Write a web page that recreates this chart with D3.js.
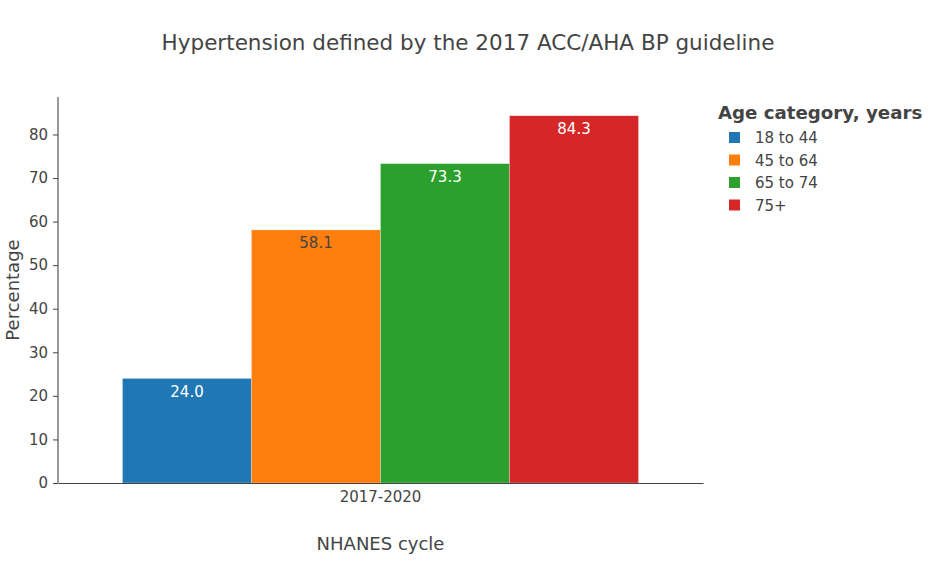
<!DOCTYPE html>
<html>
<head>
  <meta charset="utf-8">
  <script src="https://cdn.jsdelivr.net/npm/d3@7"></script>
  <style type="text/css">
    body {
      margin: 0;
      background: #fff;
      font-family: "DejaVu Sans", Verdana, sans-serif;
    }
  </style>
</head>
<body>
  <script type="text/javascript">

  // data
  const cycles = ['2017-2020'];
  const ageGroups = ['18 to 44', '45 to 64', '65 to 74', '75+'];
  const percentages = [24.0, 58.1, 73.3, 84.3];
  const colors = ['#1f77b4', '#ff7f0e', '#2ca02c', '#d62728'];
  const yTicks = [0, 10, 20, 30, 40, 50, 60, 70, 80];

  const margin = {top: 97, bottom: 97, left: 58, right: 233};
  const width = 936 - margin.left - margin.right;
  const height = 580 - margin.top - margin.bottom;
  const font = '"DejaVu Sans", Verdana, sans-serif';

  const svg = d3.select('body').append('svg')
    .attr('width', 936)
    .attr('height', 580);

  const g = svg.append('g')
    .attr('transform', `translate(${margin.left},${margin.top})`);

  // scales
  const x = d3.scaleBand().domain(cycles).range([0, width]).paddingInner(0.2).paddingOuter(0.1);
  const xSub = d3.scaleBand().domain(ageGroups).range([0, x.bandwidth()]);
  const y = d3.scaleLinear().domain([0, 88.6]).range([height, 0]);

  // y axis
  const axisY = d3.axisLeft(y).tickValues(yTicks).tickSize(5).tickPadding(5);
  const gy = g.append('g').call(axisY);
  gy.selectAll('text').style('font-size', '15px').style('font-family', font).attr('fill', '#444');
  gy.select('.domain').attr('stroke', '#333').attr('d', `M0,${height}V0`);
  gy.selectAll('.tick line').attr('stroke', '#444');

  // bars
  const grp = g.selectAll('.grp').data(cycles).enter().append('g')
    .attr('transform', d => `translate(${x(d)},0)`);

  const rows = ageGroups.map((a, i) => ({age: a, value: percentages[i], color: colors[i]}));

  grp.selectAll('rect').data(rows).enter().append('rect')
    .attr('x', d => xSub(d.age))
    .attr('width', xSub.bandwidth())
    .attr('y', d => y(d.value))
    .attr('height', d => height - y(d.value))
    .attr('fill', d => d.color)
    .attr('stroke', '#fff')
    .attr('stroke-width', 0.5)
    .attr('stroke-opacity', 0.5);

  grp.selectAll('.lbl').data(rows).enter().append('text')
    .attr('x', d => xSub(d.age) + xSub.bandwidth() / 2)
    .attr('y', d => y(d.value) + 18.5)
    .attr('text-anchor', 'middle')
    .style('font-size', '15px')
    .attr('fill', d => d.age === '45 to 64' ? '#444' : '#fff')
    .text(d => d.value.toFixed(1));

  // x axis
  const axisX = d3.axisBottom(x).tickSize(0).tickPadding(8);
  const gx = g.append('g')
    .attr('transform', `translate(0,${height})`)
    .call(axisX);
  gx.selectAll('text').style('font-size', '15px').style('font-family', font).attr('fill', '#444');
  gx.select('.domain').attr('stroke', '#444');

  // titles
  svg.append('text')
    .attr('x', 468).attr('y', 50)
    .attr('text-anchor', 'middle')
    .style('font-size', '21.5px').attr('fill', '#444')
    .text('Hypertension defined by the 2017 ACC/AHA BP guideline');

  svg.append('text')
    .attr('x', margin.left + width / 2).attr('y', 550)
    .attr('text-anchor', 'middle')
    .style('font-size', '18px').attr('fill', '#444')
    .text('NHANES cycle');

  svg.append('text')
    .attr('transform', `translate(19,${margin.top + height / 2}) rotate(-90)`)
    .attr('text-anchor', 'middle')
    .style('font-size', '18px').attr('fill', '#444')
    .text('Percentage');

  // legend
  const legend = svg.append('g').attr('transform', 'translate(718,0)');
  legend.append('text')
    .attr('x', 0).attr('y', 119)
    .style('font-size', '18.2px').style('font-weight', 'bold').attr('fill', '#444')
    .text('Age category, years');

  const item = legend.selectAll('.item').data(rows).enter().append('g')
    .attr('transform', (d, i) => `translate(0,${137.5 + i * 22.5})`);
  item.append('rect')
    .attr('x', 11).attr('y', -5.5).attr('width', 11).attr('height', 11)
    .attr('fill', d => d.color);
  item.append('text')
    .attr('x', 37).attr('y', 5.5)
    .style('font-size', '15px').attr('fill', '#444')
    .text(d => d.age);

  </script>
</body>
</html>
